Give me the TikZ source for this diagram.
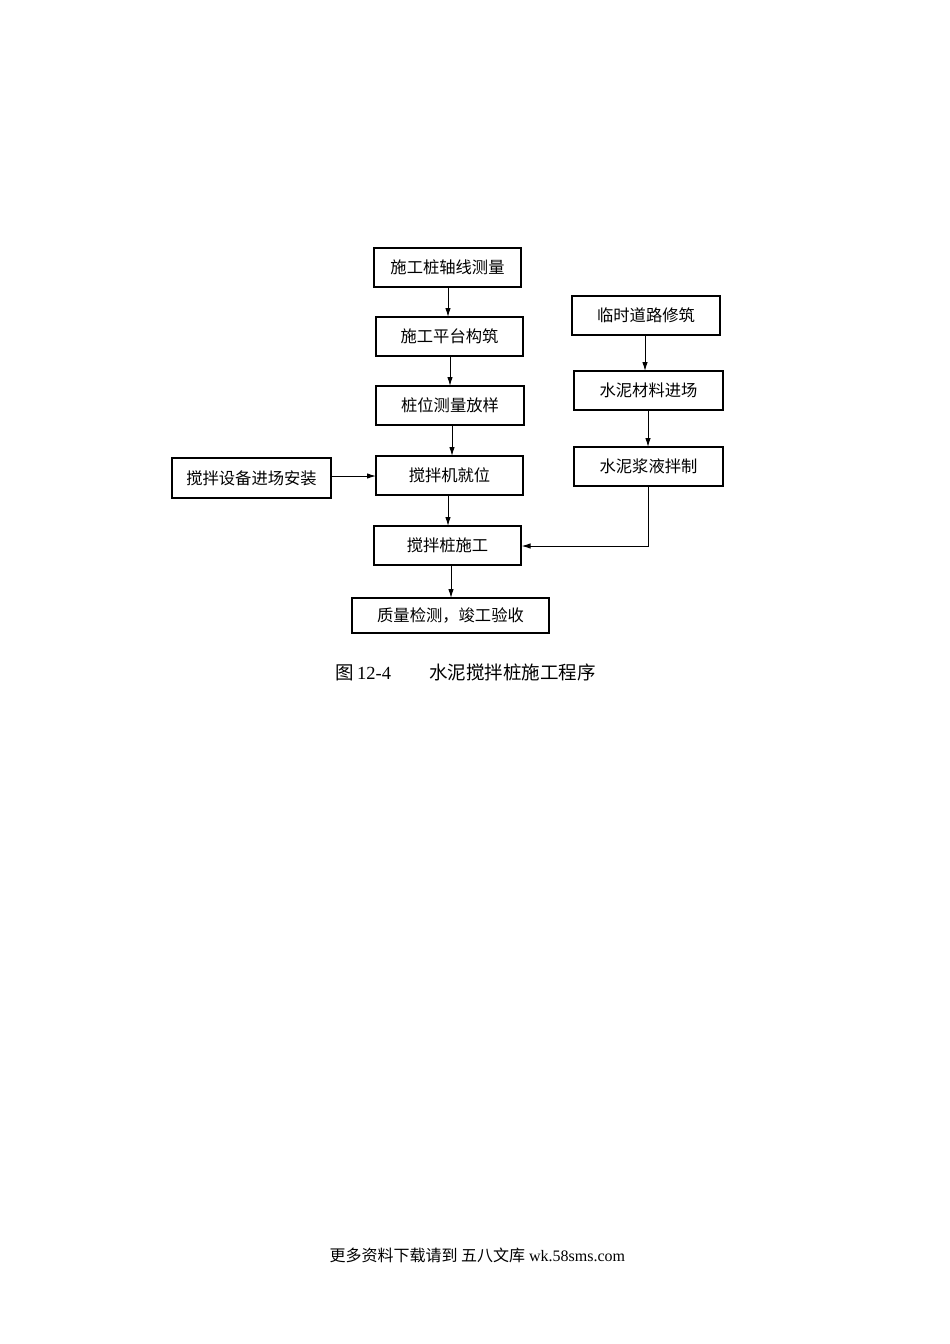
\documentclass[tikz,border=0pt]{standalone}
\usepackage{fontspec}
\setmainfont{Liberation Serif}
\newfontfamily\cjk{Noto Sans CJK SC}
\usetikzlibrary{arrows.meta}
\begin{document}
\begin{tikzpicture}[x=1pt,y=-1pt,
  box/.style={draw,line width=1.1pt,inner sep=0pt,font=\cjk\fontsize{16.3}{18}\selectfont},
  arr/.style={line width=1pt,-{Latex[length=9pt,width=5.5pt]}}]
\useasboundingbox (0,0) rectangle (950,1344);
\node[box,minimum width=147pt,minimum height=39pt] (a) at (447.5,267.5) {施工桩轴线测量};
\node[box,minimum width=147pt,minimum height=39pt] (b) at (449.5,336.5) {施工平台构筑};
\node[box,minimum width=148pt,minimum height=39pt] (c) at (450,405.5) {桩位测量放样};
\node[box,minimum width=147pt,minimum height=39pt] (d) at (449.5,475.5) {搅拌机就位};
\node[box,minimum width=147pt,minimum height=39pt] (e) at (447.5,545.5) {搅拌桩施工};
\node[box,minimum width=197pt,minimum height=35pt] (f) at (450.5,615.5) {质量检测，竣工验收};
\node[box,minimum width=159pt,minimum height=40pt] (g) at (251.5,478) {搅拌设备进场安装};
\node[box,minimum width=148pt,minimum height=39pt] (h) at (646,315.5) {临时道路修筑};
\node[box,minimum width=149pt,minimum height=39pt] (i) at (648.5,390.5) {水泥材料进场};
\node[box,minimum width=149pt,minimum height=39pt] (j) at (648.5,466.5) {水泥浆液拌制};
\draw[arr] (448,287) -- (448,317);
\draw[arr] (450,356) -- (450,386);
\draw[arr] (452,425) -- (452,456);
\draw[arr] (448,495) -- (448,526);
\draw[arr] (451,565) -- (451,598);
\draw[arr] (331,476) -- (376,476);
\draw[arr] (645,335) -- (645,371);
\draw[arr] (648,410) -- (648,447);
\coordinate (k) at (648,546);
\draw[arr] (j.south -| k) -- (k) -- (k -| e.east);
\node[font=\fontsize{18.5}{20}\selectfont,anchor=west] (cap) at (332,672) {{\cjk 图}\,12-4\hspace{38pt}{\cjk 水泥搅拌桩施工程序}};
\node[font=\fontsize{16}{18}\selectfont,anchor=west] (foot) at (326,1255) {{\cjk 更多资料下载请到 五八文库} wk.58sms.com};
\end{tikzpicture}
\end{document}
